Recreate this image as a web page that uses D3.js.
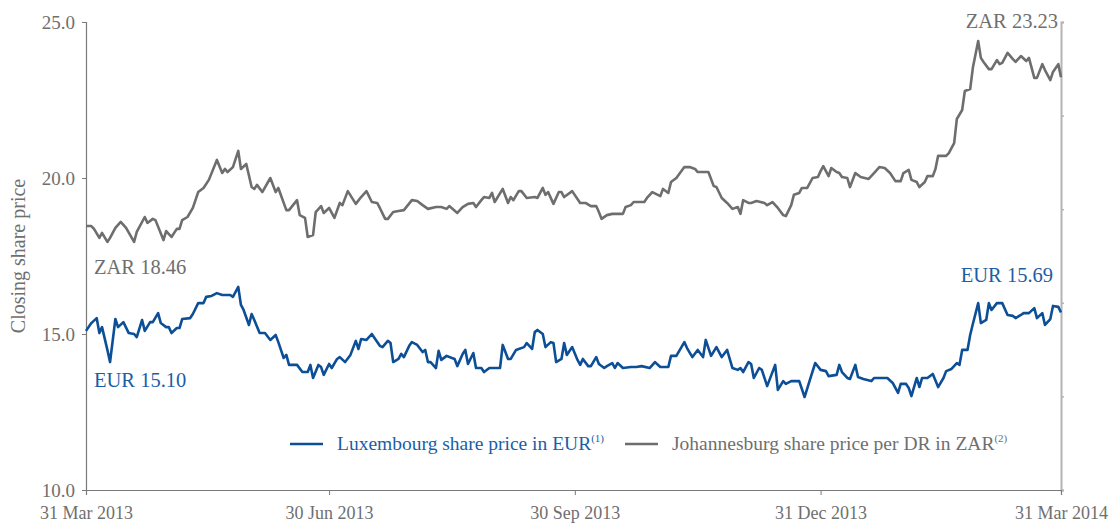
<!DOCTYPE html>
<html>
<head>
<meta charset="utf-8">
<script src="https://cdn.jsdelivr.net/npm/d3@7"></script>
<style>
  body { margin: 0; background: #fff; }
  text { font-family: "Liberation Serif", "Times New Roman", serif; }
</style>
</head>
<body>
<script>
// x axis
const startDate = '2013-03-31';
const tickDates = ['2013-03-31', '2013-06-30', '2013-09-30', '2013-12-31', '2014-03-31'];
const tickLabels = ['31 Mar 2013', '30 Jun 2013', '30 Sep 2013', '31 Dec 2013', '31 Mar 2014'];
const yTicks = [10, 15, 20, 25];

// Johannesburg share price per DR in ZAR (days since 31 Mar 2013)
const zarDays = [0,2,3,5,6,8,9,11,13,15,18,19,22,23,25,26,29,30,32,34,35,36,38,40,42,44,46,49,51,52,53,55,57,58,60,62,63,64,66,69,71,72,75,76,79,80,82,83,85,86,88,89,91,93,95,96,98,101,103,105,107,109,110,112,113,115,117,119,122,124,126,128,131,133,135,136,139,141,143,145,146,148,149,151,152,153,156,158,159,160,162,163,165,168,169,171,172,173,175,177,178,179,182,185,187,189,191,192,193,195,197,201,202,204,205,209,210,212,215,216,218,219,221,224,226,228,229,233,235,236,238,240,242,244,245,246,248,249,251,254,255,257,259,261,262,264,265,267,268,270,272,274,275,276,278,279,281,282,283,285,286,288,290,293,295,297,299,301,303,305,306,308,309,311,312,314,315,317,318,319,322,323,325,326,328,329,331,332,334,335,336,338,339,341,342,343,345,347,348,350,352,353,355,356,358,359,361,362,364,365];
const zarValues = [18.46,18.46,18.37,18.08,18.24,17.95,18.08,18.40,18.59,18.40,17.95,18.27,18.75,18.56,18.69,18.65,18.01,18.30,18.11,18.37,18.37,18.65,18.75,19.04,19.55,19.68,19.94,20.58,20.16,20.29,20.19,20.35,20.87,20.29,20.45,19.71,19.65,19.78,19.55,20.00,19.55,19.68,18.97,18.97,19.29,18.81,18.72,18.11,18.17,18.91,19.10,18.88,19.04,18.72,19.20,19.13,19.58,19.17,19.39,19.58,19.23,19.20,19.04,18.69,18.69,18.91,18.94,18.97,19.29,19.26,19.13,19.01,19.07,19.07,19.01,19.10,18.88,19.07,19.17,19.20,19.07,19.29,19.39,19.36,19.52,19.23,19.65,19.20,19.39,19.29,19.58,19.58,19.36,19.39,19.36,19.68,19.46,19.55,19.17,19.55,19.55,19.39,19.58,19.20,19.20,19.10,19.10,18.91,18.69,18.81,18.85,18.85,19.07,19.13,19.23,19.23,19.36,19.55,19.42,19.65,19.52,19.87,20.00,20.35,20.35,20.29,20.19,20.19,19.74,19.71,19.36,19.20,19.01,19.07,18.85,19.29,19.20,19.20,19.26,19.20,19.13,19.23,19.04,18.81,18.78,19.13,19.46,19.52,19.68,19.68,20.00,20.03,20.22,20.38,20.06,20.32,20.19,20.16,20.03,20.00,19.71,20.16,20.03,19.97,20.16,20.35,20.32,20.16,19.90,19.90,20.16,20.26,19.94,19.87,19.71,19.87,20.06,20.06,20.29,20.71,20.71,20.80,21.12,21.89,22.18,22.79,22.85,23.53,24.39,23.85,23.72,23.49,23.49,23.78,23.65,23.69,24.01,23.81,23.72,23.91,23.75,23.85,23.21,23.21,23.65,23.46,23.14,23.40,23.65,23.23];

// Luxembourg share price in EUR (days since 31 Mar 2013)
const eurDays = [0,2,4,5,6,8,9,11,12,14,16,18,19,21,22,24,25,27,28,30,31,32,34,35,36,39,40,42,44,45,47,49,51,54,55,57,58,59,61,62,63,65,67,69,71,72,74,75,76,79,81,83,84,85,87,88,89,91,92,94,95,97,99,101,102,103,105,107,108,110,111,113,114,115,117,118,119,121,122,124,126,127,128,129,131,132,133,135,137,138,139,141,142,143,145,146,148,149,151,155,156,158,159,161,162,164,165,167,168,169,171,172,174,175,176,178,179,180,182,184,185,186,188,189,191,192,194,195,197,198,199,201,204,206,208,211,213,215,218,219,221,224,225,227,229,231,232,234,236,238,240,242,244,245,246,248,249,250,252,253,255,258,259,261,262,264,267,269,271,273,275,277,278,281,282,283,285,286,288,289,291,294,295,300,302,304,305,307,308,309,311,312,313,315,317,319,321,322,324,326,327,328,330,331,332,334,335,337,338,339,341,343,345,347,348,350,351,353,355,356,358,359,361,362,364,365];
const eurValues = [15.10,15.35,15.51,15.03,15.22,14.49,14.10,15.48,15.22,15.38,15.03,15.00,14.90,15.45,15.10,15.38,15.38,15.67,15.35,15.22,15.22,15.03,15.19,15.19,15.48,15.51,15.64,15.99,15.99,16.19,16.22,16.31,16.25,16.25,16.19,16.51,15.93,15.77,15.29,15.64,15.45,15.03,15.03,14.81,14.97,14.74,14.23,14.33,14.01,14.01,13.78,13.78,14.01,13.59,14.01,13.94,13.69,14.04,13.91,14.20,14.26,14.10,14.33,14.78,14.52,14.84,14.81,15.00,14.87,14.62,14.58,14.78,14.71,14.10,14.20,14.36,14.26,14.62,14.74,14.65,14.42,14.49,14.10,14.10,13.91,14.46,14.17,14.30,14.23,14.20,13.97,14.36,14.49,14.04,14.39,13.91,13.91,13.78,13.91,13.91,14.65,14.20,14.20,14.49,14.52,14.58,14.71,14.52,15.06,15.13,15.00,14.58,14.74,14.71,14.10,14.20,14.71,14.33,14.58,14.17,14.01,14.20,13.97,13.97,14.26,14.04,13.91,13.97,14.07,13.91,14.07,13.91,13.94,13.94,13.97,13.91,14.10,13.94,13.94,14.30,14.30,14.74,14.55,14.26,14.49,14.26,14.81,14.30,14.58,14.26,14.49,13.91,13.85,13.91,13.78,14.10,14.04,13.59,13.91,13.85,13.33,14.01,13.21,13.49,13.40,13.49,13.49,12.98,13.53,14.07,13.85,13.81,13.65,13.69,14.01,13.78,13.59,13.56,14.01,13.62,13.56,13.49,13.59,13.59,13.43,13.11,13.40,13.40,13.27,13.01,13.59,13.30,13.59,13.59,13.72,13.30,13.59,13.81,13.88,14.07,14.01,14.49,14.49,14.97,15.32,15.99,15.35,15.45,15.99,15.77,15.99,15.99,15.61,15.58,15.51,15.61,15.67,15.67,15.83,15.51,15.67,15.29,15.48,15.90,15.87,15.69];

const W = 1110, H = 524;
const margin = { top: 22, right: 49, bottom: 34, left: 86 };
const blue = '#0c4f97', blueText = '#1a5ea6';
const grey = '#6e6e6e', greyText = '#6f6f6f';

const parse = d3.timeParse('%Y-%m-%d');
const t0 = parse(startDate);

const x = d3.scaleTime()
  .domain([parse(tickDates[0]), parse(tickDates[tickDates.length - 1])])
  .range([margin.left, W - margin.right]);
const y = d3.scaleLinear().domain([10, 25]).range([H - margin.bottom, margin.top]);
const yRight = d3.scaleLinear().domain([0, 5]).range([H - margin.bottom, margin.top]);

const svg = d3.select('body').append('svg').attr('width', W).attr('height', H);

// axes
const gy = svg.append('g')
  .attr('transform', `translate(${margin.left},0)`)
  .call(d3.axisLeft(y).tickValues(yTicks).tickFormat(d3.format('.1f')).tickSize(4).tickPadding(7));
gy.selectAll('text').attr('font-size', 19).attr('fill', greyText).style('font-family', '"Liberation Serif", serif');

const gr = svg.append('g')
  .attr('transform', `translate(${W - margin.right},0)`)
  .call(d3.axisRight(yRight).ticks(5).tickFormat('').tickSize(3));
gr.select('.domain').attr('stroke', '#b4b4b4').attr('stroke-width', 2);
gr.selectAll('.tick line').attr('stroke', '#b4b4b4').attr('stroke-width', 1.5);

const gx = svg.append('g')
  .attr('transform', `translate(0,${H - margin.bottom})`)
  .call(d3.axisBottom(x).tickValues(tickDates.map(parse))
    .tickFormat((d, i) => tickLabels[i]).tickSize(5).tickPadding(11));
gx.selectAll('text').attr('font-size', 18).attr('fill', greyText).style('font-family', '"Liberation Serif", serif');

[gy, gx].forEach(g => {
  g.select('.domain').attr('stroke', '#7a7a7a').attr('stroke-width', 1.2);
  g.selectAll('.tick line').attr('stroke', '#7a7a7a');
});

svg.append('text')
  .attr('transform', `translate(25,${(margin.top + H - margin.bottom) / 2}) rotate(-90)`)
  .attr('text-anchor', 'middle')
  .attr('font-size', 20)
  .attr('fill', greyText)
  .text('Closing share price');

// lines
const zar = zarDays.map((d, i) => ({ date: d3.timeDay.offset(t0, d), v: zarValues[i] }));
const eur = eurDays.map((d, i) => ({ date: d3.timeDay.offset(t0, d), v: eurValues[i] }));
const line = d3.line().x(d => x(d.date)).y(d => y(d.v));

svg.append('path').datum(zar)
  .attr('fill', 'none').attr('stroke', grey).attr('stroke-width', 2.6)
  .attr('stroke-linejoin', 'round').attr('d', line);
svg.append('path').datum(eur)
  .attr('fill', 'none').attr('stroke', blue).attr('stroke-width', 2.6)
  .attr('stroke-linejoin', 'round').attr('d', line);

// start / end annotations
const first = (arr) => arr[0], last = (arr) => arr[arr.length - 1];
svg.append('text').attr('x', x(first(zar).date) + 8).attr('y', y(first(zar).v) + 48)
  .attr('font-size', 20.5).attr('fill', greyText).text('ZAR ' + first(zar).v.toFixed(2));
svg.append('text').attr('x', x(first(eur).date) + 8).attr('y', y(first(eur).v) + 56)
  .attr('font-size', 20.5).attr('fill', blueText).text('EUR ' + first(eur).v.toFixed(2));
svg.append('text').attr('x', x(last(zar).date) - 3).attr('y', y(last(zar).v) - 49)
  .attr('text-anchor', 'end').attr('font-size', 20.5).attr('fill', greyText)
  .text('ZAR ' + last(zar).v.toFixed(2));
svg.append('text').attr('x', x(last(eur).date) - 8).attr('y', y(last(eur).v) - 30)
  .attr('text-anchor', 'end').attr('font-size', 20.5).attr('fill', blueText)
  .text('EUR ' + last(eur).v.toFixed(2));

// legend
const legend = [
  { label: 'Luxembourg share price in EUR', sup: '(1)', color: blue, text: blueText, x: 290 },
  { label: 'Johannesburg share price per DR in ZAR', sup: '(2)', color: grey, text: greyText, x: 625 }
];
const lg = svg.selectAll('.legend').data(legend).enter().append('g')
  .attr('class', 'legend')
  .attr('transform', d => `translate(${d.x},444)`);
lg.append('line').attr('x1', 0).attr('x2', 33).attr('y1', 0).attr('y2', 0)
  .attr('stroke', d => d.color).attr('stroke-width', 2.6);
const lt = lg.append('text').attr('x', 47).attr('y', 6)
  .attr('font-size', 19.5).attr('fill', d => d.text);
lt.append('tspan').text(d => d.label);
lt.append('tspan').attr('font-size', 11).attr('dy', -8).text(d => d.sup);
</script>
</body>
</html>
